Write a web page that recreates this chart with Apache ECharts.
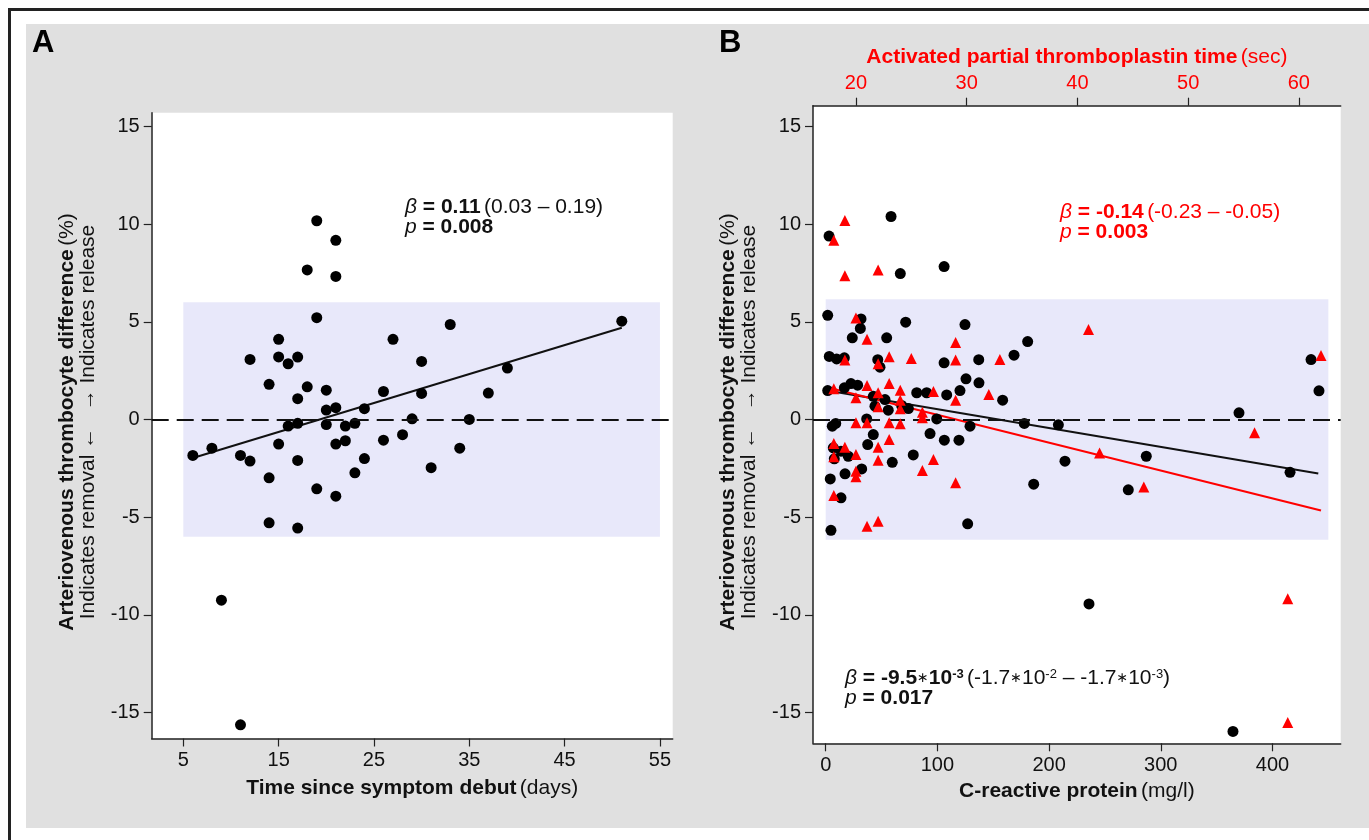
<html>
<head>
<meta charset="UTF-8">
<script src="https://cdn.jsdelivr.net/npm/echarts@6.0.0/dist/echarts.min.js"></script>
<style>
	body { margin: 0; background: #fff; }
	#frame { position: absolute; left: 8px; top: 8px; width: 1361px; height: 832px; border-left: 3px solid #222; border-top: 3px solid #222; }
	#panel { position: absolute; left: 26px; top: 24px; width: 1343px; height: 804px; background: #e0e0e0; }
	#chart { position: absolute; left: 0; top: 0; width: 1369px; height: 840px; }
</style>
</head>
<body>
	<div id="frame"></div>
	<div id="panel"></div>
	<div id="chart"></div>
</body>
<script>
	// A: days since symptom debut vs AV difference (%)
	var pointsA = [
		[19, 10.17], [21, 9.17], [18, 7.65], [21, 7.32], [19, 5.21], [15, 4.1], [27, 4.1],
		[12, 3.07], [15, 3.2], [17, 3.19], [16, 2.85], [30, 2.97], [33, 4.86], [39, 2.63],
		[51, 5.03], [14, 1.8], [18, 1.67], [20, 1.5], [17, 1.06], [26, 1.43], [30, 1.33],
		[37, 1.35], [20, 0.48], [21, 0.6], [24, 0.55], [16, -0.34], [17, -0.2], [20, -0.26],
		[22, -0.34], [23, -0.2], [29, 0.03], [35, 0.0], [6, -1.84], [8, -1.47], [11, -1.84],
		[12, -2.13], [15, -1.26], [17, -2.1], [21, -1.26], [22, -1.09], [24, -2.0], [26, -1.06],
		[28, -0.78], [34, -1.47], [31, -2.47], [14, -2.99], [19, -3.55], [21, -3.93], [23, -2.73],
		[14, -5.29], [17, -5.56], [9, -9.25], [11, -15.63]
	];
	var fitA = [[6, -1.97], [51, 4.69]];
	var bandA = [[5, -6], [55, 6]];
	var ticksA = [5, 15, 25, 35, 45, 55];

	// B: CRP (black circles, bottom axis) and APTT (red triangles, top axis)
	var crpPoints = [
		[58.5, 10.39], [3, 9.39], [66.8, 7.47], [106, 7.83], [1.8, 5.33], [31.6, 5.15], [31, 4.66],
		[71.6, 4.98], [124.7, 4.86], [23.8, 4.18], [54.6, 4.18], [3.2, 3.23], [9.8, 3.1], [16.7, 3.16],
		[46.6, 3.06], [48.6, 2.68], [106, 2.9], [137, 3.06], [1.8, 1.48], [16.7, 1.62], [22.6, 1.84],
		[28.6, 1.76], [125.6, 2.08], [137.2, 1.88], [120.2, 1.48], [108.3, 1.26], [81.5, 1.37],
		[90.4, 1.37], [42.6, 1.19], [53.1, 1.02], [44.1, 0.68], [56, 0.48], [74, 0.56], [68, 0.72],
		[99.4, 0.03], [36.7, 0.03], [5.9, -0.34], [9, -0.2], [129.2, -0.34], [42.6, -0.77],
		[93.4, -0.72], [106.2, -1.06], [119.3, -1.06], [37.6, -1.28], [6.8, -1.45], [13.7, -1.62],
		[7.7, -2.01], [20.2, -1.88], [78.4, -1.81], [59.6, -2.19], [32.2, -2.53], [4.1, -3.04],
		[17.3, -2.78], [13.7, -4.01], [4.7, -5.67], [127.1, -5.34], [180.8, 3.99], [168.6, 3.29],
		[158.4, 0.99], [177.8, -0.2], [208.3, -0.27], [214.2, -2.13], [186.2, -3.31], [287, -1.88],
		[270.9, -3.6], [370, 0.34], [415.7, -2.7], [434.5, 3.07], [441.6, 1.47], [235.7, -9.44],
		[364.6, -15.96]
	];
	var apttPoints = [
		[19, 10.19], [18, 9.17], [19, 7.36], [22, 7.65], [20, 5.2], [21, 4.11], [29, 3.94],
		[19, 3.04], [22, 2.85], [23, 3.21], [25, 3.12], [29, 3.04], [18, 1.57], [21, 1.74],
		[23, 1.84], [20, 1.11], [22, 1.37], [24, 1.5], [27, 1.43], [32, 1.28], [29, 0.99],
		[24, 0.99], [22, 0.65], [24, 0.55], [26, 0.37], [26, 0.09], [20, -0.17], [21, -0.17],
		[23, -0.17], [24, -0.22], [23, -1.02], [18, -1.23], [19, -1.42], [22, -1.42], [20, -1.79],
		[18, -1.91], [22, -2.08], [27, -2.05], [20, -2.65], [20, -2.93], [26, -2.61], [29, -3.24],
		[18, -3.89], [21, -5.46], [22, -5.2], [41, 4.61], [33, 3.07], [42, -1.71], [46, -3.45],
		[56, -0.68], [62, 3.28], [59, -9.17], [59, -15.5]
	];
	var fitCrp = [[5, 1.45], [441, -2.76]];
	var fitAptt = [[18, 1.56], [62, -4.66]];
	var bandB = [[0, -6.15], [450, 6.15]];
	var crpTicks = [0, 100, 200, 300, 400];
	var apttTicks = [20, 30, 40, 50, 60];

	var yTicks = [-15, -10, -5, 0, 5, 10, 15];

	var FONT = "'Liberation Sans', Arial, sans-serif";
	var chart = echarts.init(document.getElementById('chart'));

	function valueAxis(extra, ticks, color) {
		var ax = {
			type: 'value',
			axisLine: { show: true, onZero: false, lineStyle: { color: '#222', width: 1.5 } },
			axisTick: { show: true, inside: false, length: 8, customValues: ticks, lineStyle: { color: '#222', width: 1.2 } },
			axisLabel: { customValues: ticks, fontSize: 20, color: color || '#111', fontFamily: FONT, margin: 12 },
			splitLine: { show: false }
		};
		for (var k in extra) ax[k] = extra[k];
		return ax;
	}

	function nameRich(color) {
		return {
			b: { fontSize: 21, fontWeight: 'bold', fontFamily: FONT, color: color },
			n: { fontSize: 21, fontFamily: FONT, color: color }
		};
	}

	var annRich = function(color) {
		return {
			it: { fontSize: 21, fontStyle: 'italic', fontFamily: FONT, fill: color, lineHeight: 20 },
			b: { fontSize: 21, fontWeight: 'bold', fontFamily: FONT, fill: color, lineHeight: 20 },
			n: { fontSize: 21, fontFamily: FONT, fill: color, lineHeight: 20 },
			st: { fontSize: 14, fontFamily: 'DejaVu Sans', fill: color, lineHeight: 20 },
			bs: { fontSize: 13, fontWeight: 'bold', fontFamily: FONT, fill: color, verticalAlign: 'top', lineHeight: 20 },
			ns: { fontSize: 13, fontFamily: FONT, fill: color, verticalAlign: 'top', lineHeight: 20 }
		};
	};

	var yTitle = '{b|Arteriovenous thrombocyte difference} {n|(%)}\n{n|Indicates removal ←   → Indicates release}';
	var yRich = {
		b: { fontSize: 21, fontWeight: 'bold', fontFamily: FONT, fill: '#111', lineHeight: 21 },
		n: { fontSize: 21, fontFamily: FONT, fill: '#111', lineHeight: 21 }
	};

	var option = {
		animation: false,
		textStyle: { fontFamily: FONT },
		grid: [
			{ left: 151.7, top: 112.7, width: 521, height: 625.8, show: true, backgroundColor: '#fff', borderWidth: 0 },
			{ left: 813, top: 105.7, width: 527.7, height: 637.6, show: true, backgroundColor: '#fff', borderWidth: 0 }
		],
		xAxis: [
			valueAxis({ gridIndex: 0, position: 'bottom', min: 1.685, max: 56.34,
				name: '{b|Time since symptom debut} {n|(days)}', nameLocation: 'middle', nameGap: 39,
				nameTextStyle: { rich: nameRich('#111') } }, ticksA),
			valueAxis({ gridIndex: 1, position: 'bottom', min: -11.37, max: 461.05,
				name: '{b|C-reactive protein} {n|(mg/l)}', nameLocation: 'middle', nameGap: 37,
				nameTextStyle: { rich: nameRich('#111') } }, crpTicks),
			valueAxis({ gridIndex: 1, position: 'top', min: 16.12, max: 63.78,
				name: '{b|Activated partial thromboplastin time} {n|(sec)}', nameLocation: 'middle', nameGap: 38,
				nameTextStyle: { rich: nameRich('#f00') } }, apttTicks, '#f00')
		],
		yAxis: [
			valueAxis({ gridIndex: 0, min: -16.33, max: 15.70 }, yTicks),
			valueAxis({ gridIndex: 1, min: -16.57, max: 16.06 }, yTicks)
		],
		graphic: [
			{ type: 'text', x: 32, y: 28, z: 100, style: { text: 'A', fontSize: 31, fontWeight: 'bold', fontFamily: FONT, fill: '#000' } },
			{ type: 'text', x: 719, y: 28, z: 100, style: { text: 'B', fontSize: 31, fontWeight: 'bold', fontFamily: FONT, fill: '#000' } },
			{ type: 'text', x: 77.3, y: 422, rotation: Math.PI / 2, z: 100,
				style: { text: yTitle, rich: yRich, align: 'center', verticalAlign: 'middle' } },
			{ type: 'text', x: 738.6, y: 422, rotation: Math.PI / 2, z: 100,
				style: { text: yTitle, rich: yRich, align: 'center', verticalAlign: 'middle' } },
			{ type: 'text', x: 405, y: 197, z: 100,
				style: { text: '{it|β}{b| = 0.11} {n|(0.03 – 0.19)}\n{it|p}{b| = 0.008}', rich: annRich('#111') } },
			{ type: 'text', x: 1060, y: 202, z: 100,
				style: { text: '{it|β}{b| = -0.14} {n|(-0.23 – -0.05)}\n{it|p}{b| = 0.003}', rich: annRich('#f00') } },
			{ type: 'text', x: 845, y: 668, z: 100,
				style: { text: '{it|β}{b| = -9.5}{st|∗}{b|10}{bs|-3} {n|(-1.7}{st|∗}{n|10}{ns|-2}{n| – -1.7}{st|∗}{n|10}{ns|-3}{n|)}\n{it|p}{b| = 0.017}', rich: annRich('#111') } }
		],
		series: [
			{ type: 'scatter', xAxisIndex: 0, yAxisIndex: 0, data: [], z: 1, silent: true,
				markArea: { silent: true, itemStyle: { color: '#e8e8fa' }, data: [[{ coord: bandA[0] }, { coord: bandA[1] }]] } },
			{ type: 'scatter', xAxisIndex: 0, yAxisIndex: 0, data: [], z: 2, silent: true,
				markLine: { silent: true, symbol: 'none', label: { show: false },
					lineStyle: { color: '#111', type: [17, 8], width: 1.8 }, data: [{ yAxis: 0 }] } },
			{ type: 'line', xAxisIndex: 0, yAxisIndex: 0, data: fitA, symbol: 'none', z: 3,
				lineStyle: { color: '#111', width: 2 } },
			{ type: 'scatter', xAxisIndex: 0, yAxisIndex: 0, data: pointsA, symbol: 'circle', symbolSize: 11, z: 4,
				itemStyle: { color: '#000', opacity: 1 } },

			{ type: 'scatter', xAxisIndex: 1, yAxisIndex: 1, data: [], z: 1, silent: true,
				markArea: { silent: true, itemStyle: { color: '#e8e8fa' }, data: [[{ coord: bandB[0] }, { coord: bandB[1] }]] } },
			{ type: 'scatter', xAxisIndex: 1, yAxisIndex: 1, data: [], z: 2, silent: true,
				markLine: { silent: true, symbol: 'none', label: { show: false },
					lineStyle: { color: '#111', type: [17, 8], width: 1.8 }, data: [{ yAxis: 0 }] } },
			{ type: 'line', xAxisIndex: 1, yAxisIndex: 1, data: fitCrp, symbol: 'none', z: 3,
				lineStyle: { color: '#111', width: 2 } },
			{ type: 'line', xAxisIndex: 2, yAxisIndex: 1, data: fitAptt, symbol: 'none', z: 3,
				lineStyle: { color: '#f00', width: 2 } },
			{ type: 'scatter', xAxisIndex: 1, yAxisIndex: 1, data: crpPoints, symbol: 'circle', symbolSize: 11, z: 4,
				itemStyle: { color: '#000', opacity: 1 } },
			{ type: 'scatter', xAxisIndex: 2, yAxisIndex: 1, data: apttPoints, symbol: 'triangle', symbolSize: 11, z: 5,
				itemStyle: { color: '#f00', opacity: 1 } }
		]
	};
	chart.setOption(option);
</script>
</html>
